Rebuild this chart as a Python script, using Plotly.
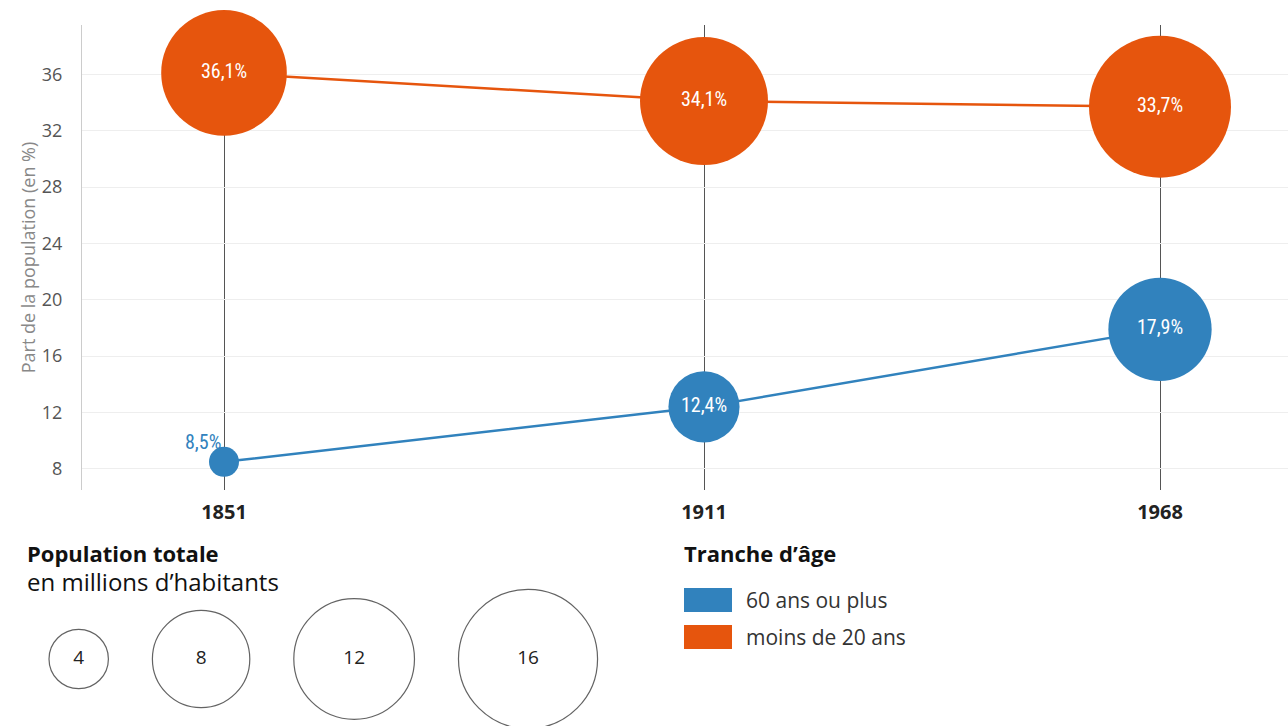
import plotly.graph_objects as go

# ---------------- data ----------------
years = [1851, 1911, 1968]
share_60plus = [8.5, 12.4, 17.9]          # % of population aged 60+
share_under20 = [36.1, 34.1, 33.7]        # % of population under 20
pop_60plus = [3.06, 4.9, 8.9]             # millions of inhabitants
pop_under20 = [13.0, 13.5, 16.7]          # millions of inhabitants
legend_pops = [4, 8, 12, 16]              # bubble-size legend values
y_ticks = [8, 12, 16, 20, 24, 28, 32, 36]

series_names = ["60 ans ou plus", "moins de 20 ans"]
BLUE = "#3182bd"
ORANGE = "#e6550d"

# ---------------- layout constants ----------------
W, H = 1288, 726
PLOT_L, PLOT_T, PLOT_B = 82, 25, 490
MIN_D, MAX_D = 30, 142

all_pops = pop_60plus + pop_under20
zmin, zmax = min(all_pops), max(all_pops)


def diam(v):
    pos = max(0.0, (v - zmin) / (zmax - zmin)) ** 0.5
    return MIN_D + pos * (MAX_D - MIN_D)


def fmt(v):
    return f"{v:.1f}".replace(".", ",") + "%"


def px(x):
    return x / W


def py(y):
    return 1 - y / H


FONT = "Open Sans, Lato, sans-serif"
LABEL_FONT = "Roboto Condensed, Liberation Sans Narrow, DejaVu Sans Condensed, Roboto, sans-serif"

fig = go.Figure()

# blue series (60+)
fig.add_trace(go.Scatter(
    x=years, y=share_60plus, mode="lines+markers",
    line=dict(color=BLUE, width=2.5),
    marker=dict(color=BLUE, size=[diam(v) for v in pop_60plus], sizemode="diameter",
                opacity=1, line=dict(width=0)),
    cliponaxis=False, showlegend=False, hoverinfo="skip", name=series_names[0],
))
# orange series (<20)
fig.add_trace(go.Scatter(
    x=years, y=share_under20, mode="lines+markers",
    line=dict(color=ORANGE, width=2.5),
    marker=dict(color=ORANGE, size=[diam(v) for v in pop_under20], sizemode="diameter",
                opacity=1, line=dict(width=0)),
    cliponaxis=False, showlegend=False, hoverinfo="skip", name=series_names[1],
))

# inside labels
inside_x, inside_y, inside_t = [], [], []
for i, (yr, v, p) in enumerate(zip(years, share_60plus, pop_60plus)):
    if diam(p) >= 50:
        inside_x.append(yr); inside_y.append(v); inside_t.append(fmt(v))
    else:
        fig.add_annotation(x=yr, y=v, text=fmt(v), showarrow=False,
                           xanchor="right", yanchor="bottom", xshift=-1, yshift=6,
                           font=dict(family=LABEL_FONT, size=20, color=BLUE))
for yr, v in zip(years, share_under20):
    inside_x.append(yr); inside_y.append(v); inside_t.append(fmt(v))

fig.add_trace(go.Scatter(
    x=inside_x, y=inside_y, text=inside_t, mode="text", textposition="middle center",
    textfont=dict(family=LABEL_FONT, size=20, color="white"),
    cliponaxis=False, showlegend=False, hoverinfo="skip",
))

# ---------------- size legend (bottom-left) ----------------
legend_d = [diam(v) for v in legend_pops]
lx, cur = [], 49
for d in legend_d:
    lx.append(cur + d / 2)
    cur += d + 44
fig.add_trace(go.Scatter(
    x=lx, y=[659] * len(legend_pops), mode="markers+text",
    text=[str(v) for v in legend_pops], textposition="middle center",
    textfont=dict(family=FONT, size=19, color="#222"),
    marker=dict(size=legend_d, sizemode="diameter", color="white",
                line=dict(color="#222", width=1.2)),
    xaxis="x2", yaxis="y2", cliponaxis=False, showlegend=False, hoverinfo="skip",
))

fig.add_annotation(xref="paper", yref="paper", x=px(25), y=py(553), text="<b>Population totale</b>",
                   showarrow=False, xanchor="left", yanchor="middle",
                   font=dict(family=FONT, size=22, color="#111"))
fig.add_annotation(xref="paper", yref="paper", x=px(25), y=py(581), text="en millions d’habitants",
                   showarrow=False, xanchor="left", yanchor="middle",
                   font=dict(family=FONT, size=24, color="#111"))

# ---------------- colour legend ----------------
fig.add_annotation(xref="paper", yref="paper", x=px(682), y=py(553), text="<b>Tranche d’âge</b>",
                   showarrow=False, xanchor="left", yanchor="middle",
                   font=dict(family=FONT, size=22, color="#111"))
for (name, col, yc) in [(series_names[0], BLUE, 600), (series_names[1], ORANGE, 637)]:
    fig.add_shape(type="rect", xref="paper", yref="paper",
                  x0=px(684), x1=px(732), y0=py(yc - 12), y1=py(yc + 12),
                  fillcolor=col, line=dict(width=0))
    fig.add_annotation(xref="paper", yref="paper", x=px(744), y=py(yc), text=name,
                       showarrow=False, xanchor="left", yanchor="middle",
                       font=dict(family=FONT, size=21, color="#333"))

fig.update_layout(
    width=W, height=H,
    margin=dict(l=0, r=0, t=0, b=0),
    paper_bgcolor="white", plot_bgcolor="rgba(0,0,0,0)",
    font=dict(family=FONT),
    xaxis=dict(
        domain=[px(PLOT_L), 1], range=[1851 - (224 - PLOT_L) / 8, 1851 + (W - 224) / 8],
        tickvals=years, ticktext=[f"<b>{y}</b>" for y in years],
        tickfont=dict(family=FONT, size=20, color="#222"),
        showgrid=True, gridcolor="#555", gridwidth=1.3,
        zeroline=False, showline=False, ticks="", ticklabelstandoff=8,
    ),
    yaxis=dict(
        domain=[py(PLOT_B), py(PLOT_T)], range=[6.5, 39.5],
        tickvals=y_ticks, ticktext=[str(t) for t in y_ticks],
        tickfont=dict(family=FONT, size=18, color="#555"),
        showgrid=True, gridcolor="#eeeeee", gridwidth=1,
        zeroline=False, showline=True, linecolor="#cccccc", linewidth=1,
        ticks="", ticklabelstandoff=15,
        title=dict(text="Part de la population (en %)", standoff=1,
                   font=dict(family=FONT, size=18, color="#888")),
    ),
    xaxis2=dict(domain=[0, 1], range=[0, W], visible=False, anchor="y2", fixedrange=True),
    yaxis2=dict(domain=[0, 1], range=[H, 0], visible=False, anchor="x2", fixedrange=True),
)

fig.write_html("out.html", config={"displayModeBar": False},
               post_script="document.body.style.margin='0';document.body.style.overflow='hidden';")
